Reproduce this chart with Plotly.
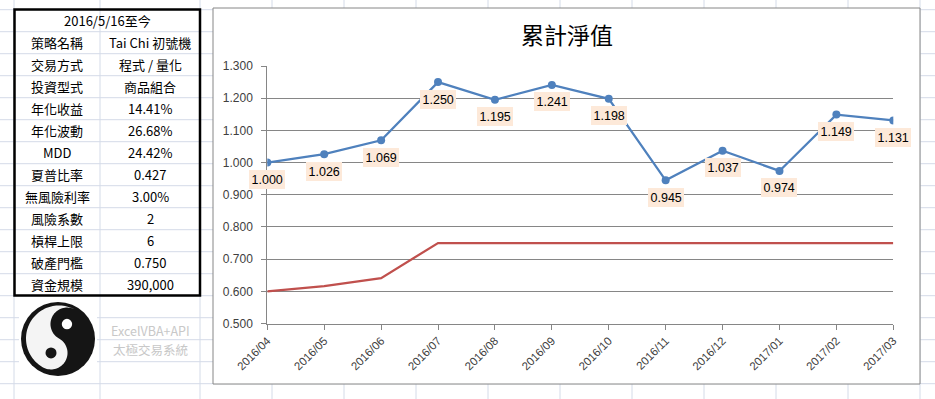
import numpy as np
import plotly.graph_objects as go

# ---------------- data ----------------
months = ["2016/04", "2016/05", "2016/06", "2016/07", "2016/08", "2016/09",
          "2016/10", "2016/11", "2016/12", "2017/01", "2017/02", "2017/03"]
nav = [1.000, 1.026, 1.069, 1.250, 1.195, 1.241, 1.198, 0.945, 1.037, 0.974, 1.149, 1.131]
floor_line = [0.600, 0.616, 0.641, 0.750, 0.750, 0.750, 0.750, 0.750, 0.750, 0.750, 0.750, 0.750]
y_ticks = [0.5, 0.6, 0.7, 0.8, 0.9, 1.0, 1.1, 1.2, 1.3]

table_header = "2016/5/16至今"
table_labels = ["策略名稱", "交易方式", "投資型式", "年化收益", "年化波動", "MDD",
                "夏普比率", "無風險利率", "風險系數", "槓桿上限", "破產門檻", "資金規模"]
table_values = ["Tai Chi 初號機", "程式 / 量化", "商品組合", "14.41%", "26.68%", "24.42%",
                "0.427", "3.00%", "2", "6", "0.750", "390,000"]
chart_title = "累計淨值"
logo_lines = ["ExcelVBA+API", "太極交易系統"]

# ---------------- page geometry helpers ----------------
W, H = 935, 399


def px(x):
    return x / W


def py(y):
    return 1 - y / H


shapes = []
annotations = []

GRID = "#D4DBE8"
# spreadsheet grid
row_top = 9.7
row_h = 22.0
for k in range(0, 19):
    yy = row_top + row_h * k
    shapes.append(dict(type="line", xref="paper", yref="paper", x0=0, x1=1,
                       y0=py(yy), y1=py(yy), line=dict(color=GRID, width=1), layer="below"))
for xx in [14, 100, 200, 272, 344, 416, 488, 560, 632, 704, 776, 848, 920]:
    shapes.append(dict(type="line", xref="paper", yref="paper", x0=px(xx), x1=px(xx),
                       y0=0, y1=1, line=dict(color=GRID, width=1), layer="below"))

# chart box
shapes.append(dict(type="rect", xref="paper", yref="paper", x0=px(213), x1=px(920),
                   y0=py(384), y1=py(8), fillcolor="white",
                   line=dict(color="#868686", width=1), layer="below"))

# table border
shapes.append(dict(type="rect", xref="paper", yref="paper", x0=px(14.5), x1=px(200),
                   y0=py(295.5), y1=py(9.5), fillcolor="rgba(0,0,0,0)",
                   line=dict(color="black", width=2.5), layer="below"))

# logo background
shapes.append(dict(type="rect", xref="paper", yref="paper", x0=px(19), x1=px(97),
                   y0=py(380), y1=py(298), fillcolor="white",
                   line=dict(width=0), layer="below"))


def circle(cx, cy, r, color):
    return dict(type="circle", xref="paper", yref="paper",
                x0=px(cx - r), x1=px(cx + r), y0=py(cy + r), y1=py(cy - r),
                fillcolor=color, line=dict(width=0), layer="below")


# yin-yang
shapes.append(circle(58, 339, 37, "#151515"))
C = np.array([59.0, 338.5])
u = np.array([16.0, -29.0])
u = u / np.linalg.norm(u)
v = np.array([-u[1], u[0]])
if v[0] > 0:
    v = -v
R = 33
pts = []
for t in np.linspace(0, np.pi, 60):
    pts.append(C + R * (np.cos(t) * u + np.sin(t) * v))
for s in np.linspace(0, np.pi, 40):
    pts.append(C - u * R / 2 + (R / 2) * (-np.cos(s) * u - np.sin(s) * v))
for s in np.linspace(0, np.pi, 40):
    pts.append(C + u * R / 2 + (R / 2) * (-np.cos(s) * u + np.sin(s) * v))
path = "M " + " L ".join(f"{px(p[0]):.5f},{py(p[1]):.5f}" for p in pts) + " Z"
shapes.append(dict(type="path", xref="paper", yref="paper", path=path,
                   fillcolor="#F4F4F4", line=dict(width=0), layer="below"))
wd = C + u * R / 2
bd = C - u * R / 2
shapes.append(circle(wd[0], wd[1], 5.2, "white"))
shapes.append(circle(bd[0], bd[1], 5.5, "#151515"))

# logo text
for i, t in enumerate(logo_lines):
    annotations.append(dict(xref="paper", yref="paper", x=px(150), y=py(330.5 + 18.5 * i),
                            text=t, showarrow=False, xanchor="center", yanchor="middle",
                            font=dict(family="Noto Sans CJK TC", size=12.5, color="#C8C8C8")))

# table text
TFONT = dict(family="Noto Sans CJK TC", size=13, color="black")
annotations.append(dict(xref="paper", yref="paper", x=px(107.5), y=py(row_top + row_h / 2),
                        text=table_header, showarrow=False, xanchor="center",
                        yanchor="middle", font=TFONT))
for i, (lab, val) in enumerate(zip(table_labels, table_values)):
    yc = row_top + row_h * (i + 1) + row_h / 2
    annotations.append(dict(xref="paper", yref="paper", x=px(57), y=py(yc), text=lab,
                            showarrow=False, xanchor="center", yanchor="middle", font=TFONT))
    annotations.append(dict(xref="paper", yref="paper", x=px(150), y=py(yc), text=val,
                            showarrow=False, xanchor="center", yanchor="middle", font=TFONT))

# chart title
annotations.append(dict(xref="paper", yref="paper", x=px(567), y=py(34), text=chart_title,
                        showarrow=False, xanchor="center", yanchor="middle",
                        font=dict(family="Noto Sans CJK TC", size=23, color="black")))

# data labels
for m, val in zip(months, nav):
    annotations.append(dict(xref="x", yref="y", x=m, y=val, text=f"{val:.3f}",
                            showarrow=False, xanchor="center", yanchor="middle", yshift=-17,
                            bgcolor="#FDE9D9", borderpad=2.5, borderwidth=0,
                            font=dict(family="Liberation Sans", size=12.5, color="black")))

fig = go.Figure()
fig.add_trace(go.Scatter(x=months, y=floor_line, mode="lines",
                         line=dict(color="#C0504D", width=2.25), hoverinfo="skip"))
fig.add_trace(go.Scatter(x=months, y=nav, mode="lines+markers",
                         line=dict(color="#4F81BD", width=2.25),
                         marker=dict(color="#4F81BD", size=8), hoverinfo="skip"))

fig.update_layout(
    width=W, height=H,
    margin=dict(l=0, r=0, t=0, b=0),
    paper_bgcolor="white",
    plot_bgcolor="rgba(0,0,0,0)",
    showlegend=False,
    shapes=shapes,
    annotations=annotations,
    xaxis=dict(domain=[267.3 / W, 893.3 / W], type="category", range=[0, len(months) - 1],
               categoryorder="array", categoryarray=months,
               showgrid=False, zeroline=False, showline=True, linecolor="#868686",
               linewidth=1, ticks="outside", ticklen=5, tickcolor="#868686",
               tickangle=-45, automargin=False,
               tickfont=dict(family="Liberation Sans", size=11.5, color="#404040")),
    yaxis=dict(domain=[1 - 323.5 / H, 1 - 66 / H], range=[0.5, 1.3],
               tickvals=y_ticks, tickformat=".3f",
               showgrid=True, gridcolor="#868686", gridwidth=1, zeroline=False,
               showline=True, linecolor="#868686", linewidth=1,
               ticks="outside", ticklen=5, tickcolor="#868686", automargin=False,
               ticklabelstandoff=6,
               tickfont=dict(family="Liberation Sans", size=12, color="#404040")),
)

fig.write_html("out.html", config={"displayModeBar": False},
               post_script="document.body.style.margin='0';document.body.style.overflow='hidden';")
